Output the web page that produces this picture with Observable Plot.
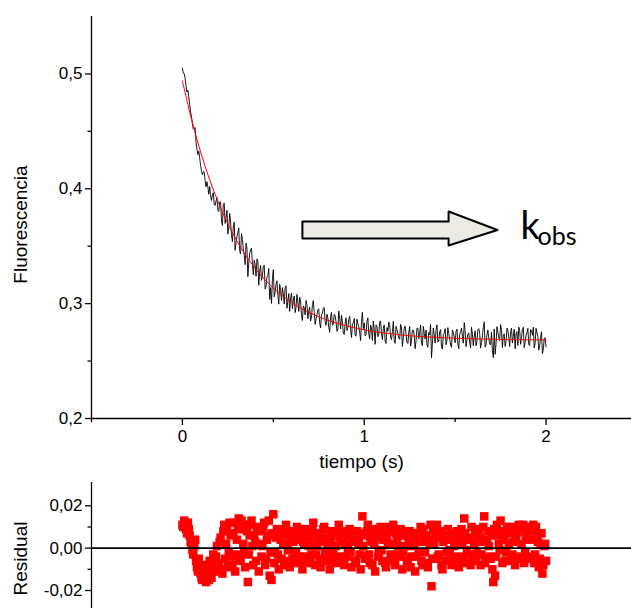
<!DOCTYPE html>
<html><head><meta charset="utf-8">
<script src="https://cdn.jsdelivr.net/npm/d3@7"></script>
<script src="https://cdn.jsdelivr.net/npm/@observablehq/plot@0.6"></script>
<style>
body{margin:0;background:#fff;}
#chart svg{display:block;}
</style></head><body><div id="chart"></div>
<script>
// Fitted exponential decay (red), every 0.05 s
const fitTime = [0,0.05,0.1,0.15,0.2,0.25,0.3,0.35,0.4,0.45,0.5,0.55,0.6,0.65,0.7,0.75,0.8,0.85,0.9,0.95,1,
  1.05,1.1,1.15,1.2,1.25,1.3,1.35,1.4,1.45,1.5,1.55,1.6,1.65,1.7,1.75,1.8,1.85,1.9,1.95,2];
const fitValue = [0.494,0.4606,0.4321,0.4079,0.3872,0.3695,0.3545,0.3417,0.3308,0.3215,0.3136,0.3069,0.3011,
  0.2962,0.2921,0.2885,0.2855,0.2829,0.2807,0.2788,0.2772,0.2758,0.2747,0.2737,0.2729,0.2721,0.2715,0.271,
  0.2706,0.2702,0.2699,0.2696,0.2694,0.2692,0.269,0.2688,0.2687,0.2686,0.2685,0.2685,0.2684];
// Residuals (data − fit): set A at t = 0, 0.01, ... 2.00 s
const residualA = [
  0.011,0.013,0.009,0.012,0.006,0.002,-0.003,0.004,-0.009,-0.005,
  -0.012,-0.015,-0.008,-0.016,-0.011,-0.006,-0.014,-0.003,-0.010,0.001,
  -0.007,0.005,-0.012,0.011,0.002,-0.009,0.012,-0.004,0.007,-0.011,
  0.004,0.014,-0.006,0.009,-0.002,0.011,-0.016,0.006,0.013,-0.008,
  0.003,0.010,-0.011,0.008,0.001,0.012,-0.005,0.006,-0.013,-0.015,
  0.016,-0.002,0.009,-0.010,0.004,0.007,-0.006,0.011,-0.001,-0.009,
  0.008,0.003,-0.007,0.010,-0.004,0.006,-0.010,0.002,0.009,-0.006,
  0.005,-0.003,0.012,-0.008,0.001,0.007,-0.009,0.004,0.010,-0.005,
  0.002,-0.010,0.008,-0.002,0.006,-0.007,0.011,-0.004,0.003,-0.008,
  0.007,-0.001,0.009,-0.009,0.004,-0.006,0.008,0.002,-0.010,0.015,
  0.006,-0.004,0.011,-0.007,0.003,0.009,-0.011,0.005,-0.002,0.010,
  -0.006,0.007,-0.009,0.002,0.008,-0.005,0.011,-0.008,0.004,-0.003,
  0.009,-0.010,0.006,0.001,-0.007,0.008,-0.004,0.005,-0.011,0.007,
  -0.002,0.010,-0.008,0.003,0.006,-0.009,0.002,-0.018,0.008,-0.005,
  0.011,-0.003,0.007,-0.010,0.004,-0.006,0.009,-0.001,-0.008,0.005,
  -0.004,0.008,-0.009,0.006,0.002,0.014,-0.007,0.004,-0.003,0.010,
  -0.006,0.007,-0.002,0.009,-0.008,0.003,0.015,-0.005,0.008,-0.004,
  0.006,-0.016,-0.013,0.011,0.002,0.013,-0.007,0.005,-0.002,0.008,
  -0.006,0.010,0.003,-0.008,0.007,0.011,-0.004,0.009,-0.007,0.004,
  0.010,-0.005,0.008,0.011,-0.003,0.006,-0.009,0.002,-0.012,0.001,
  -0.006];
// Residuals set B at t = 0.005, 0.015, ... 1.995 s
const residualB = [
  0.010,0.012,0.007,0.009,0.003,-0.001,0.001,-0.006,-0.011,-0.008,
  -0.014,-0.010,-0.013,-0.009,-0.015,-0.012,-0.007,-0.011,-0.004,-0.008,
  0.003,-0.010,0.008,-0.005,0.010,-0.002,0.006,-0.008,0.012,-0.003,
  0.009,-0.005,0.013,0.002,-0.009,0.008,-0.003,0.011,0.001,0.006,
  -0.006,0.009,0.002,-0.004,0.010,-0.008,0.004,0.013,-0.002,0.007,
  -0.007,0.005,-0.003,0.008,-0.005,0.002,0.009,-0.008,0.006,0.003,
  -0.005,0.007,-0.002,0.004,0.009,-0.006,0.003,-0.004,0.006,0.001,
  -0.007,0.008,0.002,-0.003,0.006,-0.005,0.003,0.009,-0.002,0.005,
  -0.006,0.004,-0.003,0.007,0.001,-0.005,0.005,0.008,-0.007,0.002,
  -0.004,0.006,-0.002,0.003,0.008,-0.007,0.004,-0.003,0.007,0.001,
  -0.005,0.008,-0.003,0.005,-0.008,0.002,0.006,-0.004,0.009,-0.001,
  0.004,-0.007,0.005,0.010,-0.003,0.002,-0.006,0.007,0.001,-0.004,
  0.006,-0.002,0.008,-0.006,0.003,-0.009,0.005,0.001,-0.004,0.007,
  0.003,-0.006,0.009,-0.002,-0.007,0.004,0.011,-0.005,0.002,0.006,
  -0.004,0.005,-0.008,0.003,0.008,-0.002,0.004,-0.006,0.007,0.001,
  0.006,-0.005,0.003,0.009,-0.004,0.007,-0.001,0.005,-0.008,0.004,
  0.002,-0.006,0.008,0.005,-0.003,0.010,-0.007,0.004,0.001,-0.005,
  -0.010,0.009,-0.004,0.006,-0.001,0.008,0.004,-0.006,0.010,0.002,
  0.007,-0.003,0.009,0.005,-0.005,0.008,0.002,0.011,-0.002,0.006,
  -0.004,0.009,0.004,-0.007,0.010,0.003,-0.005,0.007,-0.008,0.002];
const stepA = 0.01, offsetB = 0.005;
// Axis ticks
const yTicks = [0.2,0.3,0.4,0.5];
const yMinorTicks = [0.25,0.35,0.45];
const xTicks = [0,1,2];
const xMinorTicks = [-0.5,0.5,1.5];
const residTicks = [-0.02,0,0.02];
const residMinorTicks = [-0.01,0.01];
// Arrow annotation (data units): start, head base, tip; shaft and head bounds
const arrowX = [0.66,1.464,1.733];
const arrowY = [0.3567,0.3715,0.3506,0.3802,0.3641];
const kLabel = ["k","obs"];
const kLabelX = [1.86,1.953];
const kLabelY = [0.3567,0.3514];

const xDomain = [-0.5,2.47];
const fitAt = t => {
  const j = Math.min(fitTime.length-2, Math.floor(t/0.05+1e-9));
  const u = (t - fitTime[j])/(fitTime[j+1]-fitTime[j]);
  return fitValue[j] + u*(fitValue[j+1]-fitValue[j]);
};
const samples = [
  ...residualA.map((r,i)=>({t: i*stepA, r})),
  ...residualB.map((r,i)=>({t: offsetB + i*stepA, r}))
].sort((a,b)=>a.t-b.t);
const trace = samples.map(d=>({t:d.t, y: fitAt(d.t)+d.r}));
const fit = fitTime.map((t,i)=>({t, y: fitValue[i]}));
const arrow = [
  [arrowX[0],arrowY[0]],[arrowX[1],arrowY[0]],[arrowX[1],arrowY[2]],[arrowX[2],arrowY[4]],
  [arrowX[1],arrowY[3]],[arrowX[1],arrowY[1]],[arrowX[0],arrowY[1]],[arrowX[0],arrowY[0]]
].map(([x,y])=>({x,y}));

const loc = d3.formatLocale({decimal:",",thousands:".",grouping:[3],currency:["",""],minus:"-"});
const f1 = loc.format(".1f"), f2 = loc.format(".2f");
const font = "'Liberation Sans', Arial, sans-serif";
const style = {fontFamily: font, fontSize: "17px", color:"#000", background:"#fff", overflow:"visible"};

const mainPlot = Plot.plot({
  width:631, height:480, marginLeft:91, marginRight:0, marginTop:16, marginBottom:62,
  style,
  x:{domain:xDomain}, y:{domain:[0.2,0.55]},
  marks:[
    Plot.ruleX([-0.5],{stroke:"#000",strokeWidth:1.3}),
    Plot.ruleY([0.2],{stroke:"#000",strokeWidth:1.3}),
    Plot.axisY(yTicks,{tickSize:6,tickPadding:3,tickFormat:f1,strokeWidth:1.3,label:null,fontSize:17}),
    Plot.axisY(yMinorTicks,{tickSize:3.5,tickFormat:()=>"",strokeWidth:1.3,label:null}),
    Plot.axisX(xTicks,{tickSize:7,tickPadding:4,tickFormat:d=>String(d),strokeWidth:1.3,label:null,fontSize:17}),
    Plot.axisX(xMinorTicks,{tickSize:4,tickFormat:()=>"",strokeWidth:1.3,label:null}),
    Plot.line(trace,{x:"t",y:"y",stroke:"#000",strokeWidth:0.9}),
    Plot.line(fit,{x:"t",y:"y",stroke:"#ff0000",strokeWidth:1,curve:"catmull-rom"}),
    Plot.line(arrow,{x:"x",y:"y",fill:"#ecebe3",stroke:"#000",strokeWidth:2,curve:"linear"}),
    Plot.text([kLabel[0]],{x:[kLabelX[0]],y:[kLabelY[0]],text:d=>d,textAnchor:"start",lineAnchor:"bottom",fontSize:38,fontFamily:"Lato, 'Open Sans', sans-serif",fill:"#000"}),
    Plot.text([kLabel[1]],{x:[kLabelX[1]],y:[kLabelY[1]],text:d=>d,textAnchor:"start",lineAnchor:"bottom",fontSize:25,fontFamily:"Lato, 'Open Sans', sans-serif",fill:"#000"}),
    Plot.text(["Fluorescencia"],{frameAnchor:"left",textAnchor:"middle",dx:-71,dy:7,rotate:-90,fontSize:19,fill:"#000"}),
    Plot.text(["tiempo (s)"],{frameAnchor:"bottom",dy:49,fontSize:19,fill:"#000"})
  ]
});

const residPlot = Plot.plot({
  width:631, height:128, marginLeft:91, marginRight:0, marginTop:2, marginBottom:0,
  style,
  x:{domain:xDomain, axis:null}, y:{domain:[-0.0285,0.031]},
  marks:[
    Plot.ruleX([-0.5],{stroke:"#000",strokeWidth:1.3}),
    Plot.axisY(residTicks,{tickSize:6,tickPadding:3,tickFormat:f2,strokeWidth:1.3,label:null,fontSize:17}),
    Plot.axisY(residMinorTicks,{tickSize:3.5,tickFormat:()=>"",strokeWidth:1.3,label:null}),
    Plot.dot(samples,{x:"t",y:"r",symbol:"square",r:4.8,fill:"#ff0000",stroke:null}),
    Plot.ruleY([0],{stroke:"#000",strokeWidth:1.8}),
    Plot.text(["Residual"],{frameAnchor:"left",textAnchor:"middle",dx:-71,dy:13,rotate:-90,fontSize:19,fill:"#000"})
  ]
});

document.getElementById("chart").append(mainPlot, residPlot);
</script></body></html>
